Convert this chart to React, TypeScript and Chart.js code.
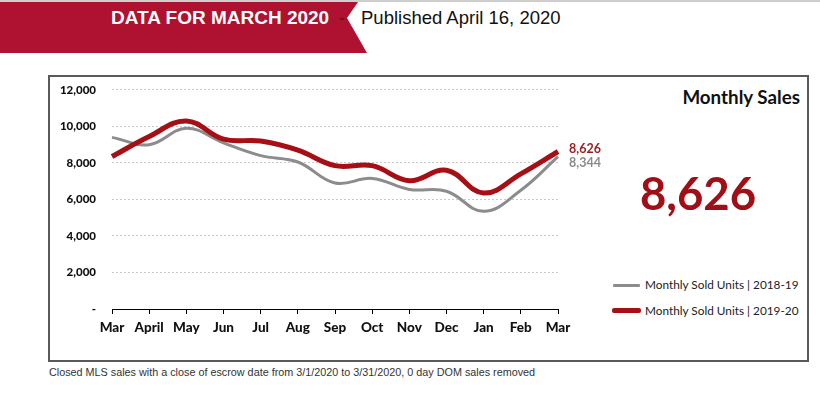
import React, { useEffect, useRef } from "react";
import { Chart, registerables } from "chart.js";

Chart.register(...registerables);

const categories = ["Mar", "April", "May", "Jun", "Jul", "Aug", "Sep", "Oct", "Nov", "Dec", "Jan", "Feb", "Mar"];
const sales2018_19 = [9400, 9000, 9900, 9100, 8400, 8050, 6900, 7150, 6550, 6450, 5350, 6500, 8344];
const sales2019_20 = [8350, 9450, 10300, 9300, 9200, 8700, 7850, 7850, 7030, 7600, 6350, 7400, 8626];
const seriesLabels = ["Monthly Sold Units | 2018-19", "Monthly Sold Units | 2019-20"];
const endLabels = ["8,344", "8,626"];
const bigNumber = "8,626";

const RED = "#a50f15";
const GRAY = "#8c8c8c";
const CAL = "Lato, 'Open Sans', sans-serif";

const endLabelPlugin = {
  id: "endLabels",
  afterDatasetsDraw(chart: any) {
    const ctx = chart.ctx;
    ctx.save();
    ctx.font = `bold 12.5px ${CAL}`;
    ctx.textBaseline = "middle";
    ctx.textAlign = "left";
    chart.data.datasets.forEach((ds: any, i: number) => {
      const meta = chart.getDatasetMeta(i);
      const pt = meta.data[meta.data.length - 1];
      if (!pt) return;
      ctx.fillStyle = ds.labelColor;
      ctx.fillText(ds.endLabel, pt.x + 11, pt.y + ds.labelOffset);
    });
    ctx.restore();
  },
};

export default function App() {
  const ref = useRef<HTMLCanvasElement | null>(null);

  useEffect(() => {
    if (!ref.current) return;
    const chart = new Chart(ref.current, {
      type: "line",
      data: {
        labels: categories,
        datasets: [
          {
            label: seriesLabels[1],
            data: sales2019_20,
            borderColor: RED,
            borderWidth: 5,
            pointRadius: 0,
            tension: 0.4,
            fill: false,
            endLabel: endLabels[1],
            labelColor: "#9b1b1f",
            labelOffset: -3,
          } as any,
          {
            label: seriesLabels[0],
            data: sales2018_19,
            borderColor: GRAY,
            borderWidth: 3,
            pointRadius: 0,
            tension: 0.4,
            fill: false,
            endLabel: endLabels[0],
            labelColor: "#8a8a8a",
            labelOffset: 6,
          } as any,
        ],
      },
      options: {
        animation: false,
        responsive: false,
        maintainAspectRatio: false,
        layout: { padding: { top: 2, right: 52, left: 0, bottom: 0 } },
        plugins: { legend: { display: false }, tooltip: { enabled: false } },
        scales: {
          x: {
            offset: false,
            afterFit: (s: any) => { s.height = 28; },
            grid: { display: true, drawOnChartArea: false, drawTicks: true, tickLength: 5, color: "#000", lineWidth: 1 },
            border: { display: true, color: "#000", width: 1 },
            ticks: { color: "#111", font: { family: CAL, size: 13.5, weight: "900" }, padding: 6, maxRotation: 0, autoSkip: false },
          },
          y: {
            min: 0,
            max: 12000,
            afterFit: (s: any) => { s.width = 62; },
            grid: { color: "#c8c8c8", lineWidth: 1, drawTicks: false },
            border: { display: false, dash: [2, 2] },
            ticks: {
              stepSize: 2000,
              padding: 16,
              color: "#111",
              font: { family: CAL, size: 11.5, weight: "900" },
              callback: (v: any) => (Number(v) === 0 ? "-" : Number(v).toLocaleString("en-US")),
            },
          },
        },
      } as any,
      plugins: [endLabelPlugin],
    });
    return () => chart.destroy();
  }, []);

  return (
    <div style={{ position: "absolute", left: 0, top: 0, width: 820, height: 397, background: "#fff", overflow: "hidden" }}>
      <div style={{ position: "absolute", left: 0, top: 0, width: 820, height: 2, background: "#cfcfcf" }} />
      <div
        style={{
          position: "absolute", left: 0, top: 2, width: 367, height: 51, background: "#ae1230",
          clipPath: "polygon(0 0, 358px 0, 347px 16px, 367px 51px, 0 51px)",
        }}
      />
      <div style={{ position: "absolute", left: 111, top: 7, lineHeight: "22px", fontFamily: "'Liberation Sans', Arial, sans-serif", fontWeight: "bold", fontSize: 19, color: "#fff", whiteSpace: "nowrap" }}>
        DATA FOR MARCH 2020
      </div>
      <div style={{ position: "absolute", left: 339, top: 7, lineHeight: "22px", fontFamily: "'Liberation Sans', Arial, sans-serif", fontWeight: "bold", fontSize: 17, color: "#7a0d1c" }}>-</div>
      <div style={{ position: "absolute", left: 361, top: 7, lineHeight: "22px", fontFamily: "'Liberation Sans', Arial, sans-serif", fontSize: 18.5, color: "#111", whiteSpace: "nowrap" }}>
        Published April 16, 2020
      </div>

      <div style={{ position: "absolute", left: 48, top: 75, width: 757, height: 283, border: "2px solid #5a5a5a" }} />

      <canvas ref={ref} width={560} height={270} style={{ position: "absolute", left: 50, top: 67, width: 560, height: 270 }} />

      <div style={{ position: "absolute", right: 20, top: 86, lineHeight: "22px", fontFamily: CAL, fontWeight: "bold", fontSize: 18.8, color: "#111", whiteSpace: "nowrap" }}>
        Monthly Sales
      </div>
      <div style={{ position: "absolute", left: 598, width: 200, top: 168, lineHeight: "50px", textAlign: "center", fontFamily: CAL, fontWeight: "bold", fontSize: 45.5, color: "#a00f16" }}>
        {bigNumber}
      </div>

      <div style={{ position: "absolute", left: 613, top: 284, width: 27, height: 3, background: GRAY, borderRadius: 1 }} />
      <div style={{ position: "absolute", left: 645, top: 276, lineHeight: "18px", fontFamily: CAL, fontSize: 11.8, color: "#222", whiteSpace: "nowrap" }}>{seriesLabels[0]}</div>
      <div style={{ position: "absolute", left: 612, top: 308, width: 29, height: 5, background: RED, borderRadius: 2 }} />
      <div style={{ position: "absolute", left: 645, top: 302, lineHeight: "18px", fontFamily: CAL, fontSize: 11.8, color: "#222", whiteSpace: "nowrap" }}>{seriesLabels[1]}</div>

      <div style={{ position: "absolute", left: 49, top: 365, lineHeight: "14px", fontFamily: "'Liberation Sans', Arial, sans-serif", fontSize: 10.8, color: "#333", whiteSpace: "nowrap" }}>
        Closed MLS sales with a close of escrow date from 3/1/2020 to 3/31/2020, 0 day DOM sales removed
      </div>
    </div>
  );
}
